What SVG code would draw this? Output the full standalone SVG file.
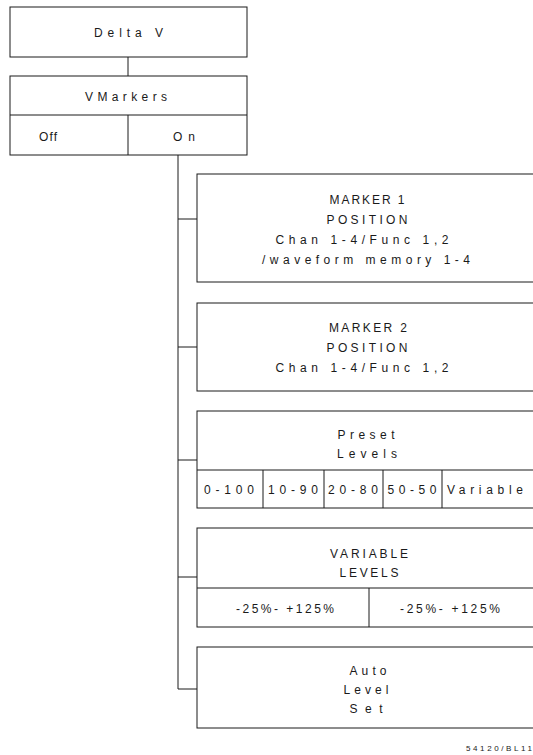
<svg xmlns="http://www.w3.org/2000/svg" width="533" height="755" viewBox="0 0 533 755">
<style>
rect.b{fill:none;stroke:#1a1a1a;stroke-width:1}
line{stroke:#1a1a1a;stroke-width:1}
text{font-family:"Liberation Sans","DejaVu Sans",sans-serif;font-size:12px;fill:#1a1a1a;text-anchor:middle}
text.n{font-size:8px}
</style>
<rect width="533" height="755" fill="#fff"/>
<g id="connectors">
<line x1="128" y1="57" x2="128" y2="76"/>
<line x1="178" y1="155" x2="178" y2="689"/>
<line x1="178" y1="219" x2="197" y2="219"/>
<line x1="178" y1="347" x2="197" y2="347"/>
<line x1="178" y1="460" x2="197" y2="460"/>
<line x1="178" y1="577" x2="197" y2="577"/>
<line x1="178" y1="689" x2="197" y2="689"/>
</g>
<g id="deltav">
<rect class="b" x="10" y="7" width="237" height="50"/>
<text x="128.5" y="37" textLength="69" lengthAdjust="spacing">Delta V</text>
</g>
<g id="vmarkers">
<rect class="b" x="10" y="76" width="237" height="79"/>
<line x1="10" y1="115" x2="247" y2="115"/>
<line x1="128" y1="115" x2="128" y2="155"/>
<text x="126" y="101" textLength="82" lengthAdjust="spacing">VMarkers</text>
<text x="48" y="141" textLength="18" lengthAdjust="spacing">Off</text>
<text x="184" y="141" textLength="22" lengthAdjust="spacing">On</text>
</g>
<g id="marker1">
<rect class="b" x="197" y="174" width="345" height="108"/>
<text x="367" y="204" textLength="75" lengthAdjust="spacing">MARKER 1</text>
<text x="367" y="224" textLength="81" lengthAdjust="spacing">POSITION</text>
<text x="362" y="244" textLength="173" lengthAdjust="spacing">Chan 1-4/Func 1,2</text>
<text x="366" y="264" textLength="208" lengthAdjust="spacing">/waveform memory 1-4</text>
</g>
<g id="marker2">
<rect class="b" x="197" y="303" width="345" height="88"/>
<text x="368" y="332" textLength="78" lengthAdjust="spacing">MARKER 2</text>
<text x="367" y="352" textLength="81" lengthAdjust="spacing">POSITION</text>
<text x="362" y="372" textLength="173" lengthAdjust="spacing">Chan 1-4/Func 1,2</text>
</g>
<g id="preset">
<rect class="b" x="197" y="411" width="345" height="97"/>
<line x1="197" y1="470" x2="542" y2="470"/>
<line x1="263" y1="470" x2="263" y2="508"/>
<line x1="324" y1="470" x2="324" y2="508"/>
<line x1="383" y1="470" x2="383" y2="508"/>
<line x1="442" y1="470" x2="442" y2="508"/>
<text x="366" y="439" textLength="57" lengthAdjust="spacing">Preset</text>
<text x="367" y="458" textLength="60" lengthAdjust="spacing">Levels</text>
<text x="229" y="494" textLength="50" lengthAdjust="spacing">0-100</text>
<text x="293" y="494" textLength="50" lengthAdjust="spacing">10-90</text>
<text x="353" y="494" textLength="50" lengthAdjust="spacing">20-80</text>
<text x="412" y="494" textLength="49" lengthAdjust="spacing">50-50</text>
<text x="485" y="494" textLength="76" lengthAdjust="spacing">Variable</text>
</g>
<g id="variable">
<rect class="b" x="197" y="528" width="345" height="99"/>
<line x1="197" y1="588" x2="542" y2="588"/>
<line x1="369" y1="588" x2="369" y2="627"/>
<text x="369" y="558" textLength="78" lengthAdjust="spacing">VARIABLE</text>
<text x="369" y="577" textLength="59" lengthAdjust="spacing">LEVELS</text>
<text x="285" y="613" textLength="98" lengthAdjust="spacing">-25%- +125%</text>
<text x="450" y="613" textLength="100" lengthAdjust="spacing">-25%- +125%</text>
</g>
<g id="auto">
<rect class="b" x="197" y="647" width="345" height="81"/>
<text x="368" y="675" textLength="37" lengthAdjust="spacing">Auto</text>
<text x="366" y="694" textLength="45" lengthAdjust="spacing">Level</text>
<text x="366" y="713" textLength="33" lengthAdjust="spacing">Set</text>
</g>
<text class="n" x="499" y="751" textLength="66" lengthAdjust="spacing">54120/BL11</text>
</svg>
